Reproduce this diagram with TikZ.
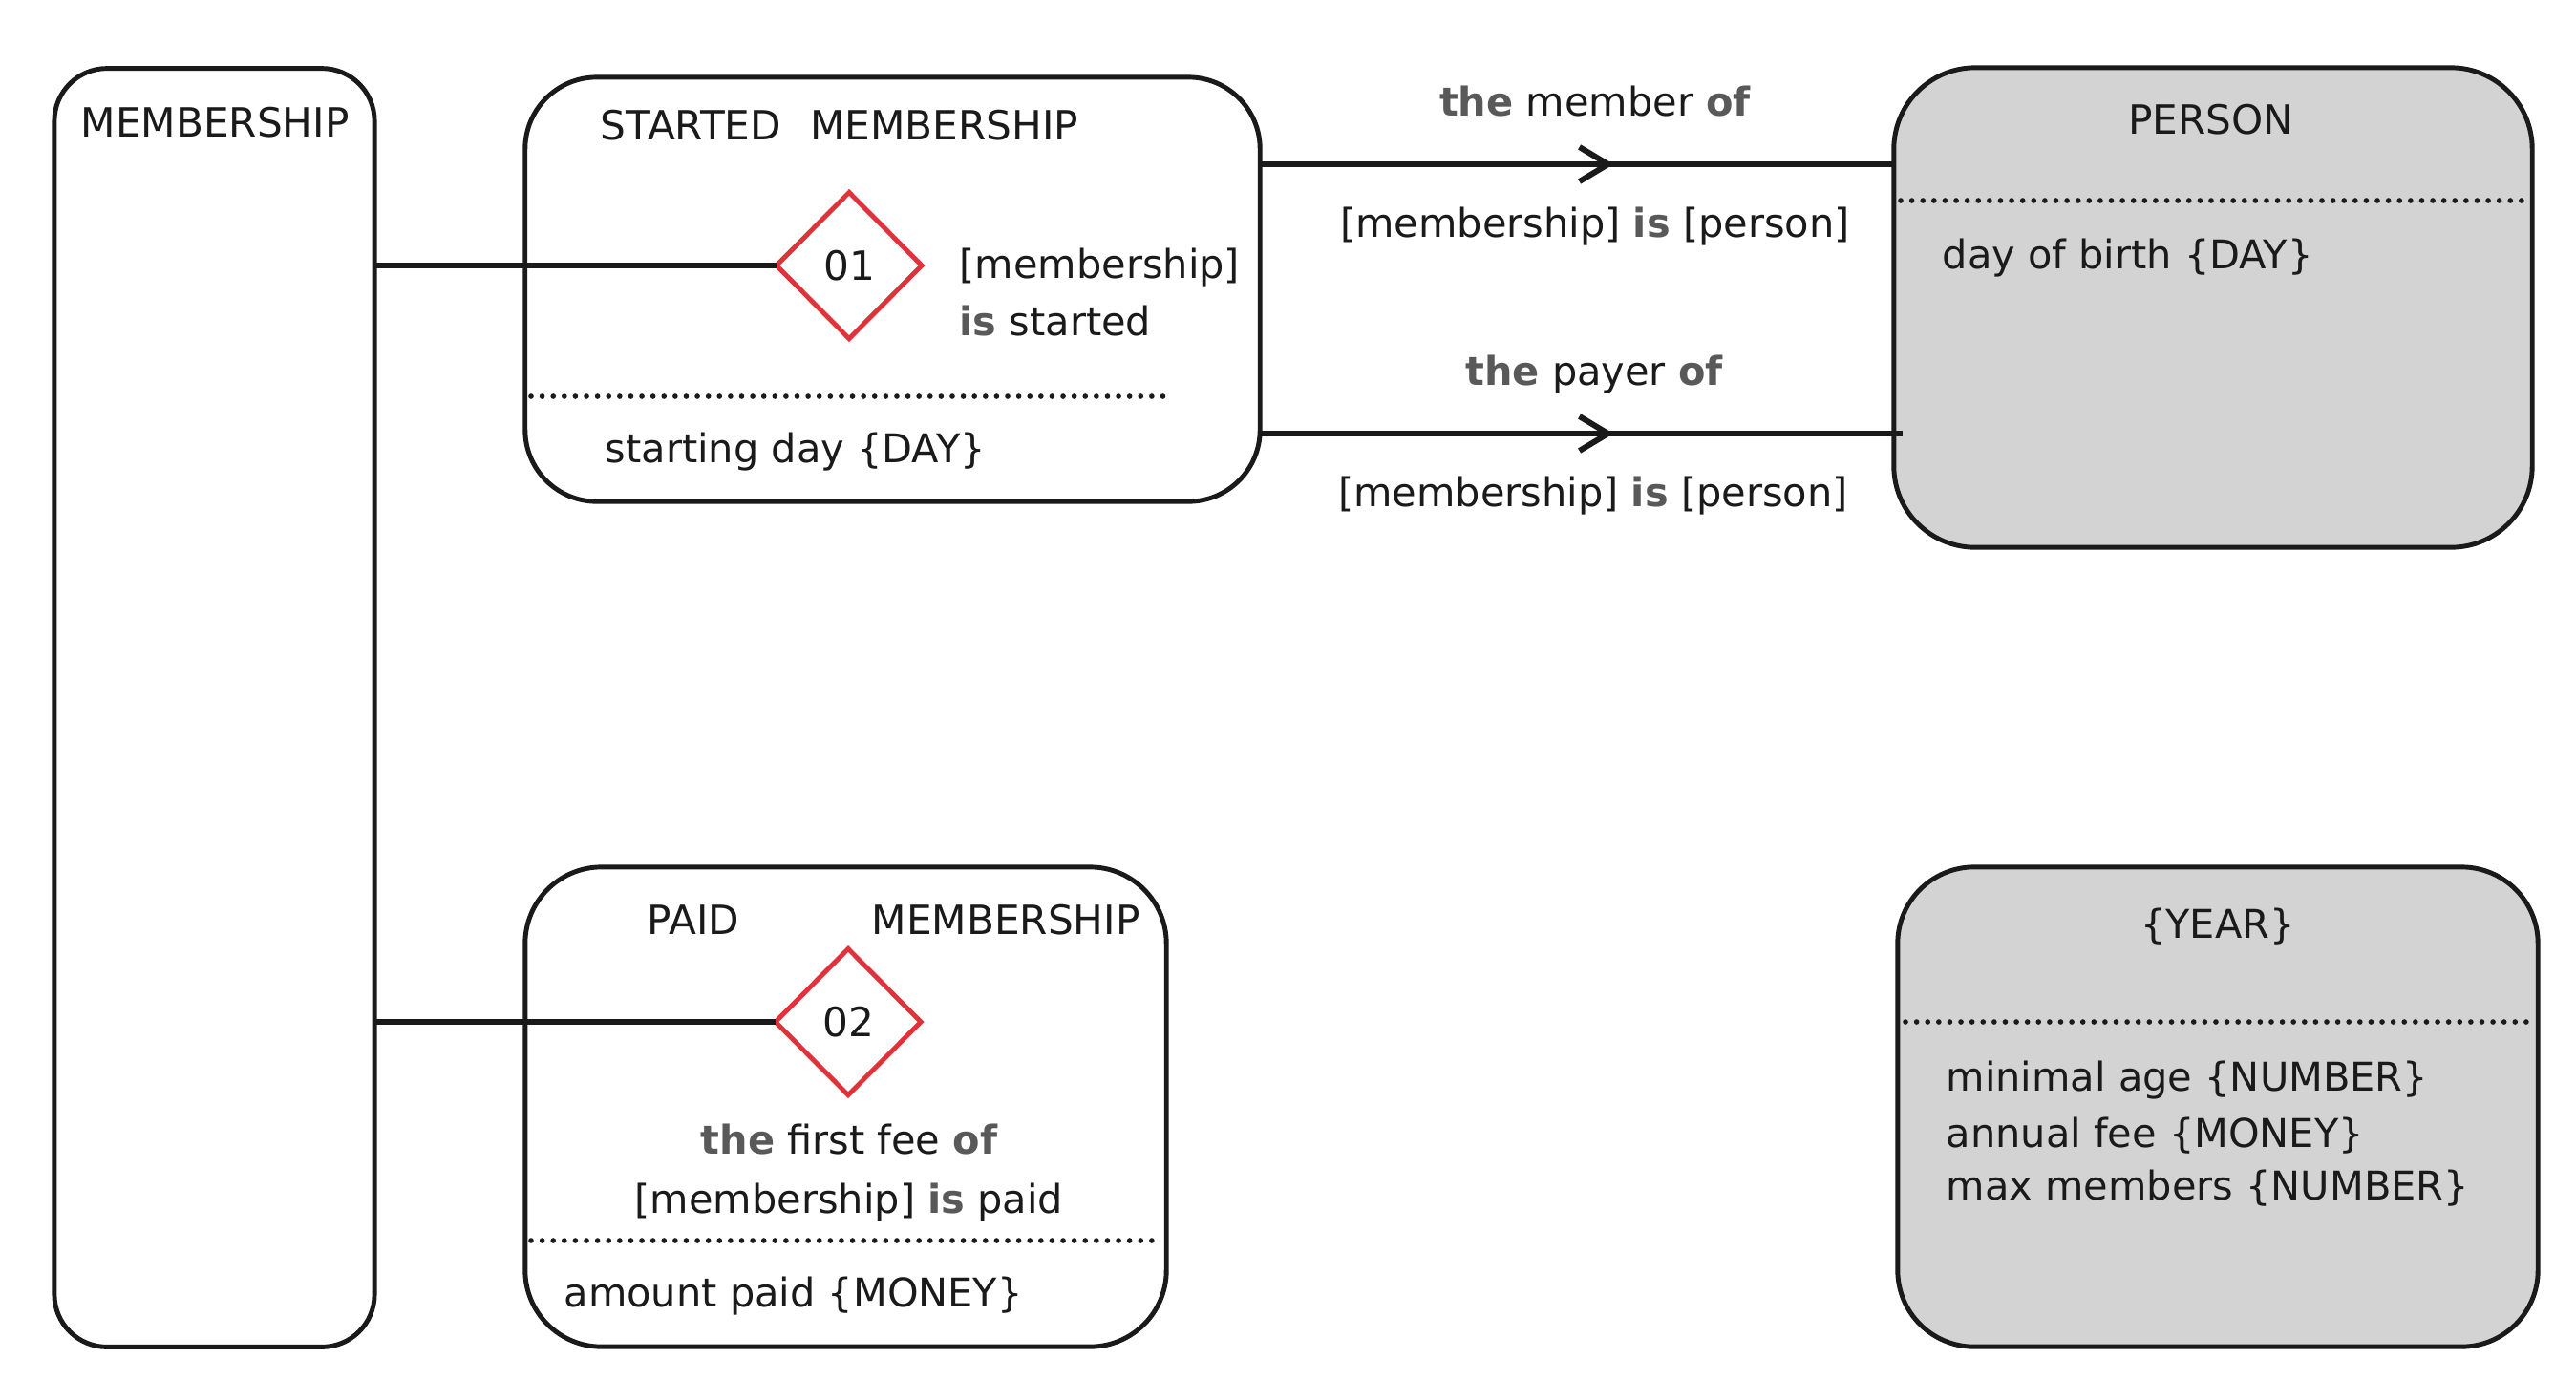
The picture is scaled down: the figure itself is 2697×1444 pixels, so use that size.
\documentclass[tikz,border=0pt]{standalone}
\usepackage{fontspec}
\setmainfont{DejaVu Sans}
\usetikzlibrary{shapes.geometric,decorations.markings,arrows.meta}
\definecolor{ink}{HTML}{1A1A1A}
\definecolor{kwgray}{HTML}{595959}
\definecolor{boxgray}{HTML}{D3D3D3}
\definecolor{dred}{HTML}{E0323A}
\newcommand{\kwd}[1]{{\bfseries\color{kwgray}#1}}
\begin{document}
\begin{tikzpicture}[x=0.01cm,y=-0.01cm,
  box/.style={draw=ink, line width=1.4pt, rectangle, inner sep=0pt, outer sep=0pt},
  conn/.style={draw=ink, line width=1.7pt},
  dia/.style={diamond, draw=dred, line width=1.4pt, inner sep=0pt, outer sep=0pt, minimum width=1.52cm, minimum height=1.53cm, font=\fontsize{12}{14}\selectfont, text=ink},
  lbl/.style={inner sep=0pt, font=\fontsize{11.8}{14}\selectfont, text=ink, anchor=base},
  lbll/.style={lbl, anchor=base west},
  dots/.style={draw=ink, line width=1.6pt, line cap=round, dash pattern=on 0pt off 3.3pt},
  midarrow/.style={postaction={decorate}, decoration={markings, mark=at position 3.7cm with {\arrow{Straight Barb[length=0.3cm, width=0.36cm]}}}}
]
\fill[white] (0,0) rectangle (2697,1444);
\useasboundingbox (0,0) rectangle (2697,1444);

% boxes
\node[box, rounded corners=0.55cm, minimum width=3.35cm, minimum height=13.38cm] (mem) at (224.5,741) {};
\node[box, rounded corners=0.75cm, minimum width=7.69cm, minimum height=4.44cm] (started) at (934.5,303) {};
\node[box, fill=boxgray, rounded corners=0.85cm, minimum width=6.68cm, minimum height=5.02cm] (person) at (2317,322) {};
\node[box, rounded corners=0.8cm, minimum width=6.71cm, minimum height=5.02cm] (paid) at (885.5,1159) {};
\node[box, fill=boxgray, rounded corners=0.8cm, minimum width=6.70cm, minimum height=5.02cm] (year) at (2322,1159) {};

% dotted separators
\draw[dots] (556,415) -- (1219,415);
\draw[dots] (1990,210) -- (2644,210);
\draw[dots] (556,1299) -- (1216,1299);
\draw[dots] (1995,1070) -- (2650,1070);

% diamonds
\node[dia] (d1) at (889,278) {01};
\node[dia] (d2) at (888,1070) {02};

% connectors
\draw[conn] (mem.east |- d1.west) -- (d1.west);
\draw[conn] (mem.east |- d2.west) -- (d2.west);
\coordinate (lvA) at (1324,172);
\coordinate (lvB) at (1324,454);
\coordinate (lvBend) at (1992,454);
\draw[conn, midarrow] (started.east |- lvA) -- (person.west |- lvA);
\draw[conn, midarrow] (started.east |- lvB) -- (lvBend);

% texts
\node[lbl, font=\fontsize{12}{14}\selectfont] (tmem) at (225,143) {MEMBERSHIP};
\node[lbll, font=\fontsize{12}{14}\selectfont] (tstarted) at (628,146) {STARTED\hspace{0.3cm}MEMBERSHIP};
\node[lbll] (r1a) at (1004,291) {[membership]};
\node[lbll] (r1b) at (1004,351) {\kwd{is} started};
\node[lbll] (a1) at (633,484) {starting day \{DAY\}};

\node[lbl] (m1) at (1670,121) {\kwd{the} member \kwd{of}};
\node[lbl] (m2) at (1670,248) {[membership] \kwd{is} [person]};
\node[lbl] (p1) at (1669,403) {\kwd{the} payer \kwd{of}};
\node[lbl] (p2) at (1668,530) {[membership] \kwd{is} [person]};

\node[lbl, font=\fontsize{12}{14}\selectfont] (tperson) at (2315,140) {PERSON};
\node[lbll] (a2) at (2033,281) {day of birth \{DAY\}};

\node[lbl, font=\fontsize{12}{14}\selectfont] (tpaid) at (726,978) {PAID};
\node[lbl, font=\fontsize{12}{14}\selectfont] (tpaidm) at (1053,978) {MEMBERSHIP};
\node[lbl] (f1) at (889,1208) {\kwd{the} first fee \kwd{of}};
\node[lbl] (f2) at (889,1270) {[membership] \kwd{is} paid};
\node[lbll] (a3) at (590,1368) {amount paid \{MONEY\}};

\node[lbl] (tyear) at (2322,982) {\{YEAR\}};
\node[lbll] (y1) at (2037,1142) {minimal age \{NUMBER\}};
\node[lbll] (y2) at (2037,1201) {annual fee \{MONEY\}};
\node[lbll] (y3) at (2037,1256) {max members \{NUMBER\}};
\end{tikzpicture}
\end{document}
